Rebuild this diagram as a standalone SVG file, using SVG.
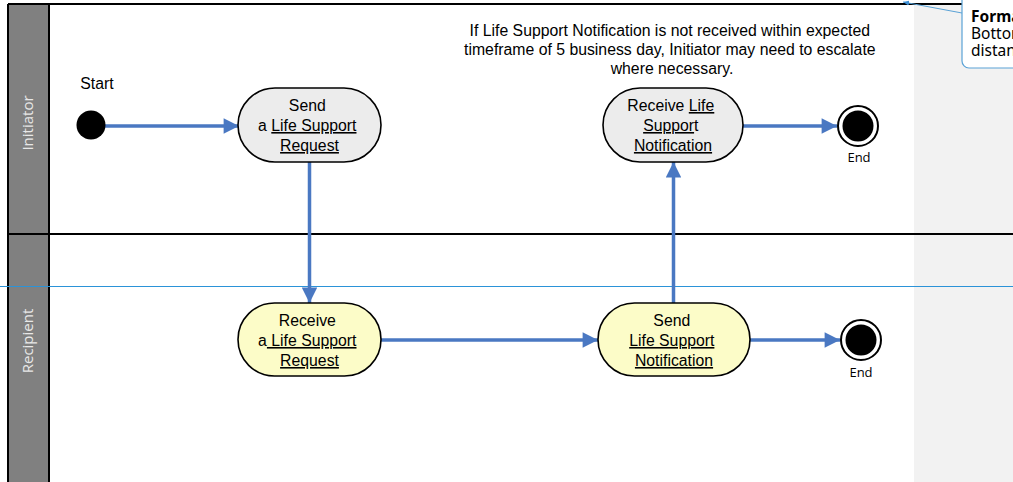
<svg xmlns="http://www.w3.org/2000/svg" width="1013" height="482" viewBox="0 0 1013 482">
  <defs>
    <style>
      .lane-head { fill: #808080; }
      .lane-label { font-family: "Open Sans", "DejaVu Sans", sans-serif; font-size: 15px; fill: #e8e8e8; }
      .border { stroke: #000000; stroke-width: 2; fill: none; }
      .act-a { fill: #ececec; stroke: #000000; stroke-width: 1.6; }
      .act-b { fill: #fcfcc8; stroke: #000000; stroke-width: 1.6; }
      .txt { font-family: "Liberation Sans", Arial, sans-serif; font-size: 15.8px; fill: #000000; }
      .small { font-family: "Open Sans", "DejaVu Sans", sans-serif; font-size: 13px; fill: #000000; }
      .u { text-decoration: underline; }
      .flow { stroke: #4a78c2; stroke-width: 3.5; fill: none; marker-end: url(#arrow); }
      .callout { fill: #ffffff; stroke: #5aa2d6; stroke-width: 1.2; }
      .ctext { font-family: "Noto Sans", "DejaVu Sans", sans-serif; font-size: 15.5px; fill: #000000; }
    </style>
    <marker id="arrow" viewBox="0 0 10 10" refX="10" refY="5" markerWidth="5" markerHeight="4.4" orient="auto" markerUnits="strokeWidth">
      <path d="M0,0 L10,5 L0,10 Z" fill="#4a78c2"/>
    </marker>
    <marker id="tip" viewBox="0 0 10 10" refX="10" refY="5" markerWidth="6" markerHeight="6" orient="auto" markerUnits="userSpaceOnUse">
      <path d="M0,1 L10,5 L0,9 Z" fill="#3d8fd6"/>
    </marker>
  </defs>

  <!-- page background -->
  <rect x="0" y="0" width="1013" height="482" fill="#ffffff"/>
  <!-- margin band on the right -->
  <rect x="914" y="4" width="99" height="478" fill="#f2f2f2"/>

  <!-- swimlane pool -->
  <g id="pool">
    <rect class="lane-head" x="8" y="4" width="41" height="478"/>
    <line class="border" x1="8" y1="4" x2="1013" y2="4"/>
    <line class="border" x1="8" y1="4" x2="8" y2="482"/>
    <line class="border" x1="49" y1="4" x2="49" y2="482"/>
    <line class="border" x1="8" y1="234" x2="1013" y2="234"/>
  </g>
  <g id="lane-initiator">
    <text class="lane-label" transform="translate(33,123) rotate(-90)" text-anchor="middle">Initiator</text>
  </g>
  <g id="lane-recipient">
    <text class="lane-label" transform="translate(33,341) rotate(-90)" text-anchor="middle">Recipient</text>
  </g>

  <!-- guide line -->
  <line x1="0" y1="286.5" x2="1013" y2="286.5" stroke="#2b93d8" stroke-width="1"/>

  <!-- connectors -->
  <g id="connectors">
    <line class="flow" x1="104" y1="126" x2="239" y2="126"/>
    <line class="flow" x1="309.5" y1="162" x2="309.5" y2="303"/>
    <line class="flow" x1="381" y1="340" x2="598" y2="340"/>
    <line class="flow" x1="673.5" y1="303" x2="673.5" y2="162"/>
    <line class="flow" x1="743" y1="126" x2="837" y2="126"/>
    <line class="flow" x1="750" y1="340" x2="840" y2="340"/>
  </g>

  <!-- start node -->
  <g id="start">
    <text class="txt" x="97" y="89" text-anchor="middle">Start</text>
    <circle cx="91" cy="125" r="14.5" fill="#000000"/>
  </g>

  <!-- Initiator activities -->
  <g id="send-request">
    <rect class="act-a" x="238" y="88" width="143" height="74" rx="37" ry="37"/>
    <text class="txt" text-anchor="middle">
      <tspan x="309.5" y="111">Send</tspan>
      <tspan x="309.5" y="131">a <tspan class="u">Life Support</tspan></tspan>
      <tspan x="309.5" y="151" class="u">Request</tspan>
    </text>
  </g>

  <g id="receive-notification">
    <rect class="act-a" x="603" y="88" width="140" height="74" rx="37" ry="37"/>
    <text class="txt" text-anchor="middle">
      <tspan x="673" y="111">Receive <tspan class="u">Life</tspan></tspan>
      <tspan x="673" y="131"><tspan class="u">Suppor</tspan>t</tspan>
      <tspan x="673" y="151" class="u">Notification</tspan>
    </text>
  </g>

  <g id="end-initiator">
    <circle cx="858" cy="126" r="20" fill="#ffffff" stroke="#000000" stroke-width="2"/>
    <circle cx="858" cy="126" r="15.5" fill="#000000"/>
    <text class="small" x="859" y="162" text-anchor="middle">End</text>
  </g>

  <!-- Recipient activities -->
  <g id="receive-request">
    <rect class="act-b" x="238" y="303" width="143" height="73" rx="36.5" ry="36.5"/>
    <text class="txt" text-anchor="middle">
      <tspan x="309.5" y="326">Receive</tspan>
      <tspan x="309.5" y="346">a<tspan class="u"> Life Support</tspan></tspan>
      <tspan x="309.5" y="366" class="u">Request</tspan>
    </text>
  </g>

  <g id="send-notification">
    <rect class="act-b" x="598" y="303" width="152" height="73" rx="36.5" ry="36.5"/>
    <text class="txt" text-anchor="middle">
      <tspan x="674" y="326">Send</tspan>
      <tspan x="674" y="346" class="u">Life Support</tspan>
      <tspan x="674" y="366" class="u">Notification</tspan>
    </text>
  </g>

  <g id="end-recipient">
    <circle cx="861" cy="340" r="20" fill="#ffffff" stroke="#000000" stroke-width="2"/>
    <circle cx="861" cy="340" r="15.5" fill="#000000"/>
    <text class="small" x="861" y="377" text-anchor="middle">End</text>
  </g>

  <!-- annotation -->
  <g id="escalation-note">
    <text class="txt" text-anchor="middle">
      <tspan x="672" y="36">If Life Support Notification is not received within expected</tspan>
      <tspan x="672" y="55">timeframe of 5 business day, Initiator may need to escalate</tspan>
      <tspan x="672" y="74">where necessary.</tspan>
    </text>
  </g>

  <!-- formatting callout, running off the right edge of the page -->
  <g id="callout">
    <line x1="962" y1="13" x2="903" y2="2" stroke="#5aa2d6" stroke-width="1" marker-end="url(#tip)"/>
    <rect class="callout" x="962" y="-8" width="70" height="76" rx="7" ry="7"/>
    <text class="ctext">
      <tspan x="971" y="22" font-weight="bold">Format</tspan>
      <tspan x="971" y="39">Bottom</tspan>
      <tspan x="971" y="56">distance</tspan>
    </text>
  </g>
</svg>
